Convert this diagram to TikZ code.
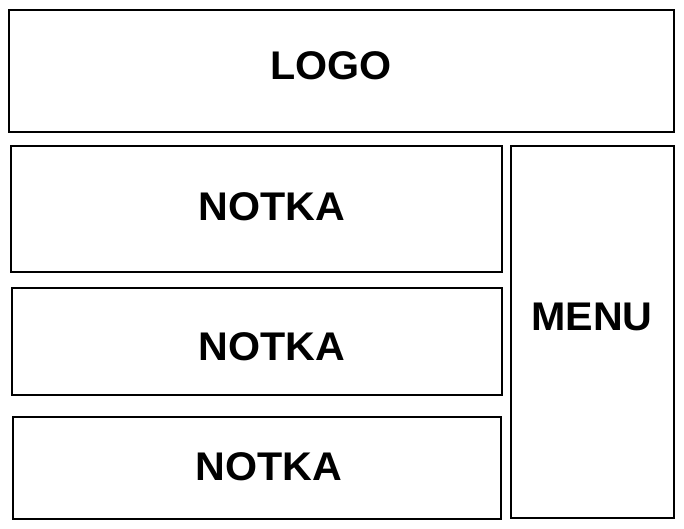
\documentclass[tikz,border=0pt]{standalone}
\usepackage{fontspec}
\setmainfont{Liberation Sans}
\newfontfamily\labelfont[FakeStretch=1.03]{Liberation Sans}
\begin{document}
\begin{tikzpicture}[x=1pt,y=-1pt,
  panel/.style={draw=black,line width=1.8pt,fill=white,inner sep=0pt},
  lbl/.style={inner sep=0pt,font=\labelfont\fontsize{40}{40}\selectfont\bfseries}]
\useasboundingbox (0,0) rectangle (684,529);
\node[panel,minimum width=665pt,minimum height=122pt] (logo) at (341.5,71) {};
\node[panel,minimum width=491pt,minimum height=126pt] (n1) at (256.5,209) {};
\node[panel,minimum width=490pt,minimum height=107pt] (n2) at (257,341.5) {};
\node[panel,minimum width=488pt,minimum height=102pt] (n3) at (257,468) {};
\node[panel,minimum width=163pt,minimum height=372pt] (menu) at (592.5,332) {};
\node[lbl] (tlogo) at (331,66) {LOGO};
\node[lbl] (tn1) at (272,206.5) {NOTKA};
\node[lbl] (tn2) at (272,346.5) {NOTKA};
\node[lbl] (tn3) at (269,466.5) {NOTKA};
\node[lbl] (tmenu) at (592,317) {MENU};
\end{tikzpicture}
\end{document}
